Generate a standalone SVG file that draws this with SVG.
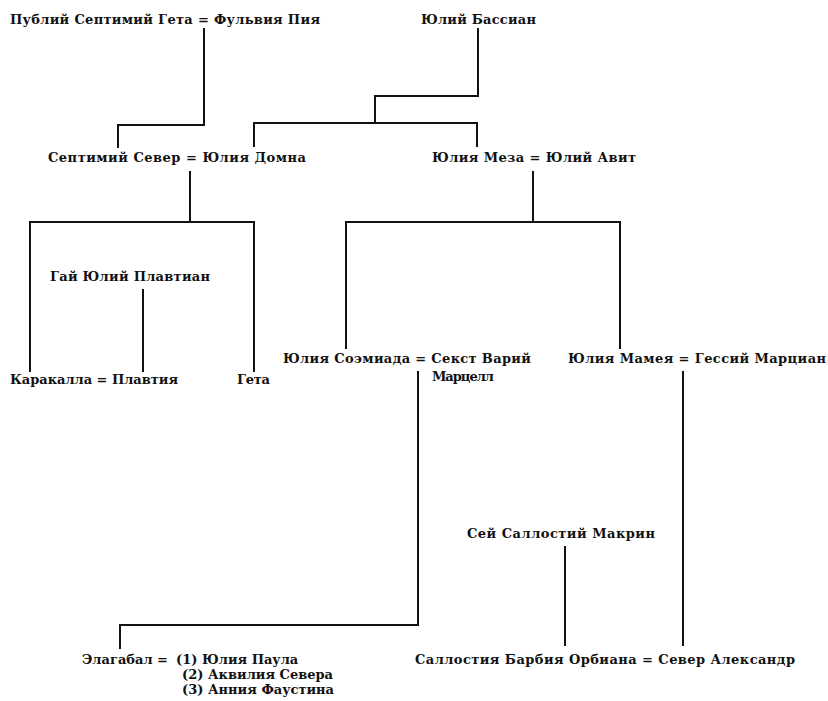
<svg xmlns="http://www.w3.org/2000/svg" width="828" height="701" viewBox="0 0 828 701">
<style>
.t{font-family:"DejaVu Serif","Liberation Serif",serif;font-weight:bold;font-size:13px;fill:#111}
.c{fill:none;stroke:#111;stroke-width:2;stroke-linecap:square}
</style>
<rect width="828" height="701" fill="#fff"/>
<g id="connectors">
<path class="c" d="M204 29V125H118V147"/>
<path class="c" d="M478 29V96H375V123"/>
<path class="c" d="M254 146V123H477V146"/>
<path class="c" d="M190 172V222"/>
<path class="c" d="M30 371V222H254V371"/>
<path class="c" d="M533 172V222"/>
<path class="c" d="M346 348V222H620V348"/>
<path class="c" d="M143 290V371"/>
<path class="c" d="M418 372V625H120V648"/>
<path class="c" d="M683 372V645"/>
<path class="c" d="M565 547V645"/>
</g>
<g id="n-publius"><text class="t" x="10" y="24" textLength="310">Публий Септимий Гета = Фульвия Пия</text></g>
<g id="n-bassian"><text class="t" x="421" y="24" textLength="115">Юлий Бассиан</text></g>
<g id="n-severus"><text class="t" x="48" y="162" textLength="258">Септимий Север = Юлия Домна</text></g>
<g id="n-maesa"><text class="t" x="432" y="162" textLength="204">Юлия Меза = Юлий Авит</text></g>
<g id="n-plautianus"><text class="t" x="50" y="281" textLength="160">Гай Юлий Плавтиан</text></g>
<g id="n-caracalla"><text class="t" x="10" y="384" textLength="168">Каракалла = Плавтия</text></g>
<g id="n-geta"><text class="t" x="237" y="384" textLength="33">Гета</text></g>
<g id="n-soaemias"><text class="t" x="283" y="363" textLength="248">Юлия Соэмиада = Секст Варий</text><text class="t" x="432" y="381" textLength="62">Марцелл</text></g>
<g id="n-mamaea"><text class="t" x="568" y="363" textLength="258">Юлия Мамея = Гессий Марциан</text></g>
<g id="n-macrinus"><text class="t" x="467" y="538" textLength="188">Сей Саллостий Макрин</text></g>
<g id="n-orbiana"><text class="t" x="415" y="664" textLength="380">Саллостия Барбия Орбиана = Север Александр</text></g>
<g id="n-elagabalus">
<text class="t" x="82" y="664">Элагабал =</text>
<text class="t" x="176" y="664">(1)</text><text class="t" x="202" y="664">Юлия Паула</text>
<text class="t" x="182" y="679">(2)</text><text class="t" x="208" y="679">Аквилия Севера</text>
<text class="t" x="182" y="694">(3)</text><text class="t" x="208" y="694">Анния Фаустина</text>
</g>
</svg>
